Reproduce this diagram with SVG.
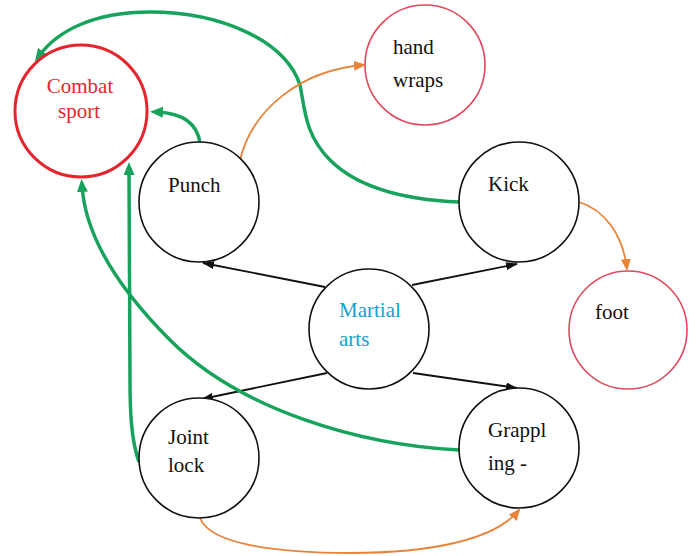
<svg xmlns="http://www.w3.org/2000/svg" width="697" height="556" viewBox="0 0 697 556">
<defs>
<style>
.n{fill:#fff;stroke:#111;stroke-width:1.6}
.r{fill:#fff;stroke:#e0485c;stroke-width:1.6}
.rt{fill:none;stroke:#e3262e;stroke-width:3}
.t{font-family:"Liberation Serif","DejaVu Serif","Times New Roman",serif;font-size:21px;fill:#111}
.tr{fill:#e3262e}
.tb{fill:#17a0cf}
.k{fill:none;stroke:#111;stroke-width:1.8}
.g{fill:none;stroke:#17a35c;stroke-width:3.5}
.o{fill:none;stroke:#e8843a;stroke-width:1.8}
</style>
<marker id="mk" viewBox="0 0 12 8" refX="11" refY="4" markerWidth="12" markerHeight="8" markerUnits="userSpaceOnUse" orient="auto"><path d="M0,0 L12,4 L0,8 z" fill="#111"/></marker>
<marker id="mg" viewBox="0 0 13 11" refX="6" refY="5.5" markerWidth="13" markerHeight="11" markerUnits="userSpaceOnUse" orient="auto"><path d="M0,0 L13,5.5 L0,11 z" fill="#17a35c"/></marker>
<marker id="mo" viewBox="0 0 12 10" refX="10" refY="5" markerWidth="12" markerHeight="10" markerUnits="userSpaceOnUse" orient="auto"><path d="M0,0 L12,5 L0,10 z" fill="#e8843a"/></marker>
</defs>
<rect width="697" height="556" fill="#fff"/>
<g id="connectors">
<path class="k" d="M325,287 L203,263" marker-end="url(#mk)"/>
<path class="k" d="M412,285 L517,264" marker-end="url(#mk)"/>
<path class="k" d="M327,373 L202,399" marker-end="url(#mk)"/>
<path class="k" d="M413,373 L517,388" marker-end="url(#mk)"/>
<path class="g" d="M200,143 C197,122 180,113 157,112" marker-end="url(#mg)"/>
<path class="g" d="M459,202 C410,200 360,190 330,160 C305,135 305,110 300,85 C285,40 220,12 150,12 C95,12 58,30 39,56" marker-end="url(#mg)"/>
<path class="g" d="M139,462 C131,440 130,410 130,380 L129,169" marker-end="url(#mg)"/>
<path class="g" d="M459,450 C360,445 240,410 170,340 C110,280 85,230 82,186" marker-end="url(#mg)"/>
<path class="o" d="M240,160 C252,110 300,70 364,65" marker-end="url(#mo)"/>
<path class="o" d="M579,202 C605,210 623,235 627,269" marker-end="url(#mo)"/>
<path class="o" d="M200,518 C210,545 280,553 350,553 C430,553 495,540 519,510" marker-end="url(#mo)"/>
</g>
<g id="combat-sport"><circle class="rt" cx="81" cy="111" r="66"/><text class="t tr" font-family="Liberation Serif, DejaVu Serif, serif" x="80" y="93" text-anchor="middle">Combat</text><text class="t tr" font-family="Liberation Serif, DejaVu Serif, serif" x="79" y="118" text-anchor="middle">sport</text></g>
<g id="hand-wraps"><circle class="r" cx="425" cy="65" r="60"/><text class="t" font-family="Liberation Serif, DejaVu Serif, serif" x="393" y="54">hand</text><text class="t" font-family="Liberation Serif, DejaVu Serif, serif" x="393" y="87">wraps</text></g>
<g id="punch"><circle class="n" cx="199" cy="202" r="60"/><text class="t" font-family="Liberation Serif, DejaVu Serif, serif" x="168" y="192">Punch</text></g>
<g id="kick"><circle class="n" cx="519" cy="202" r="60"/><text class="t" font-family="Liberation Serif, DejaVu Serif, serif" x="488" y="191">Kick</text></g>
<g id="martial-arts"><circle class="n" cx="369" cy="329" r="60"/><text class="t tb" font-family="Liberation Serif, DejaVu Serif, serif" x="339" y="317">Martial</text><text class="t tb" font-family="Liberation Serif, DejaVu Serif, serif" x="339" y="346">arts</text></g>
<g id="foot"><circle class="r" cx="628" cy="330" r="59"/><text class="t" font-family="Liberation Serif, DejaVu Serif, serif" x="595" y="319">foot</text></g>
<g id="joint-lock"><circle class="n" cx="199" cy="458" r="60"/><text class="t" font-family="Liberation Serif, DejaVu Serif, serif" x="168" y="444">Joint</text><text class="t" font-family="Liberation Serif, DejaVu Serif, serif" x="168" y="472">lock</text></g>
<g id="grappling"><circle class="n" cx="519" cy="448" r="60"/><text class="t" font-family="Liberation Serif, DejaVu Serif, serif" x="488" y="437">Grappl</text><text class="t" font-family="Liberation Serif, DejaVu Serif, serif" x="488" y="470">ing -</text></g>
</svg>
